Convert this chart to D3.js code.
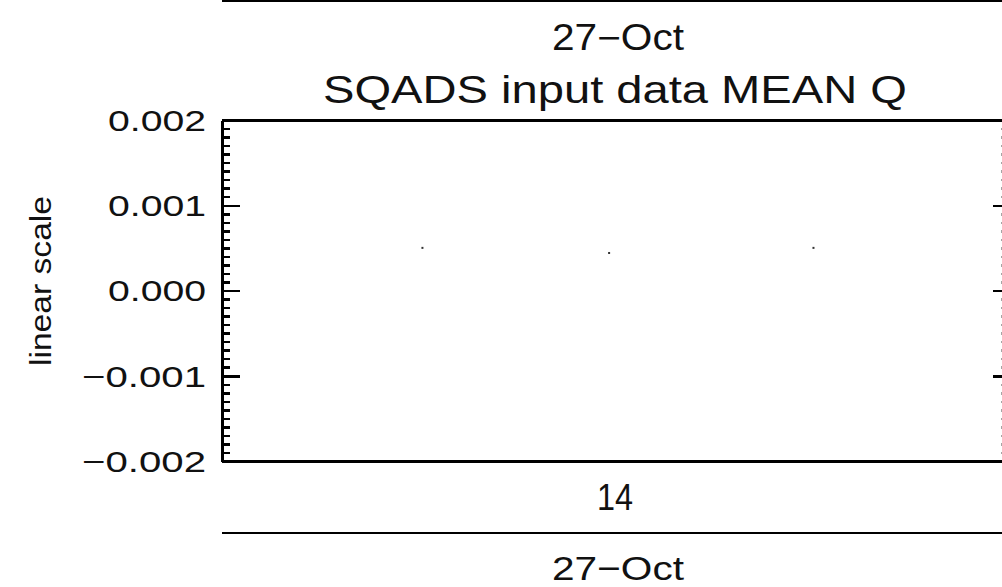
<!DOCTYPE html>
<html>
<head>
<meta charset="utf-8">
<script src="https://cdn.jsdelivr.net/npm/d3@7"></script>
<style>
  html, body { margin: 0; padding: 0; background: #fff; }
  svg { display: block; }
  text { font-family: "Liberation Sans", "DejaVu Sans", sans-serif; fill: #111; }
</style>
</head>
<body>
<svg id="chart" width="1002" height="587"></svg>
<script>
// Sample times (hour of day) and mean Q values
const sampleHours = [13.51, 13.985, 14.505];
const meanQ = [0.00050, 0.00044, 0.00050];

// Axis settings
const hourDomain = [13, 15];
const hourTicks = [14];
const qDomain = [-0.002, 0.002];
const qTicks = [-0.002, -0.001, 0.000, 0.001, 0.002];
const dateLabel = "27\u2212Oct";
const titleText = "SQADS input data MEAN Q";
const yAxisTitle = "linear scale";

const svg = d3.select("#chart");
const ink = "#000";

const plot = { left: 222, right: 1008, top: 120, bottom: 461 };

const x = d3.scaleLinear().domain(hourDomain).range([plot.left, plot.right]);
const y = d3.scaleLinear().domain(qDomain).range([plot.bottom, plot.top]);

// Minor tick values: ten subdivisions per major interval
const step = qTicks[1] - qTicks[0];
const minorTicks = [];
for (let i = 0; i < qTicks.length - 1; i++) {
  for (let k = 1; k < 10; k++) minorTicks.push(qTicks[i] + step * k / 10);
}

function styleAxis(g) {
  g.attr("shape-rendering", "crispEdges");
  g.selectAll("path.domain").attr("stroke", ink).attr("stroke-width", 2.5);
  g.selectAll(".tick line").attr("stroke", ink).attr("stroke-width", 2.5);
}

// Left axis: minor ticks, then major ticks and labels
const fmt = d3.format(".3f");
svg.append("g").attr("transform", `translate(${plot.left},0)`)
  .call(d3.axisRight(y).tickValues(minorTicks).tickSize(8).tickSizeOuter(0).tickFormat(""))
  .call(g => g.select("path.domain").remove())
  .call(styleAxis);
const leftAxisG = svg.append("g").attr("transform", `translate(${plot.left},0)`)
  .call(d3.axisRight(y).tickValues(qTicks).tickSize(18).tickSizeOuter(0).tickFormat(""));
styleAxis(leftAxisG);

svg.append("g").selectAll("text").data(qTicks).join("text")
  .attr("x", plot.left - 16)
  .attr("y", d => y(d))
  .attr("dy", "0.36em")
  .attr("text-anchor", "end")
  .attr("font-size", 30)
  .attr("textLength", d => d < 0 ? 124 : 98)
  .attr("lengthAdjust", "spacingAndGlyphs")
  .text(d => fmt(d));

// Right axis
const rightAxisG = svg.append("g").attr("transform", `translate(${plot.right},0)`)
  .call(d3.axisLeft(y).tickValues(qTicks).tickSize(15).tickSizeOuter(0).tickFormat(""));
styleAxis(rightAxisG);
svg.append("g").attr("transform", `translate(${plot.right},0)`)
  .call(d3.axisLeft(y).tickValues(minorTicks).tickSize(7).tickSizeOuter(0).tickFormat(""))
  .call(g => g.select("path.domain").remove())
  .call(styleAxis)
  .attr("opacity", 0.35);

// Bottom and top frame of the plot
const bottomAxisG = svg.append("g").attr("transform", `translate(0,${plot.bottom})`)
  .call(d3.axisBottom(x).tickValues(hourTicks).tickSize(0).tickSizeOuter(0).tickPadding(0).tickFormat(""));
styleAxis(bottomAxisG);
const topAxisG = svg.append("g").attr("transform", `translate(0,${plot.top})`)
  .call(d3.axisTop(x).tickValues([]).tickSizeOuter(0));
styleAxis(topAxisG);

svg.append("g").selectAll("text").data(hourTicks).join("text")
  .attr("x", d => x(d))
  .attr("y", 510)
  .attr("text-anchor", "middle")
  .attr("font-size", 36)
  .attr("textLength", 36)
  .attr("lengthAdjust", "spacingAndGlyphs")
  .text(d => d);

// Date axes above and below
svg.append("line").attr("x1", plot.left).attr("x2", 1002).attr("y1", 0.5).attr("y2", 0.5)
  .attr("stroke", ink).attr("stroke-width", 2).attr("shape-rendering", "crispEdges");
svg.append("line").attr("x1", plot.left).attr("x2", 1002).attr("y1", 533).attr("y2", 533)
  .attr("stroke", ink).attr("stroke-width", 2.5).attr("shape-rendering", "crispEdges");

const mid = x(hourTicks[0]);
svg.append("text").attr("x", mid + 3).attr("y", 50).attr("text-anchor", "middle")
  .attr("font-size", 36).attr("textLength", 132).attr("lengthAdjust", "spacingAndGlyphs")
  .text(dateLabel);
svg.append("text").attr("x", mid + 3).attr("y", 580).attr("text-anchor", "middle")
  .attr("font-size", 34).attr("textLength", 132).attr("lengthAdjust", "spacingAndGlyphs")
  .text(dateLabel);

// Title
svg.append("text").attr("x", 615).attr("y", 103).attr("text-anchor", "middle")
  .attr("font-size", 38).attr("textLength", 584).attr("lengthAdjust", "spacingAndGlyphs")
  .text(titleText);

// Y axis title
svg.append("text")
  .attr("transform", `translate(51,281) rotate(-90)`)
  .attr("text-anchor", "middle")
  .attr("font-size", 30)
  .attr("textLength", 170)
  .attr("lengthAdjust", "spacingAndGlyphs")
  .text(yAxisTitle);

// Data points
svg.append("g").selectAll("rect").data(sampleHours).join("rect")
  .attr("x", d => x(d) - 1)
  .attr("y", (d, i) => y(meanQ[i]) - 1)
  .attr("width", 2).attr("height", 2)
  .attr("fill", "#333");
</script>
</body>
</html>
